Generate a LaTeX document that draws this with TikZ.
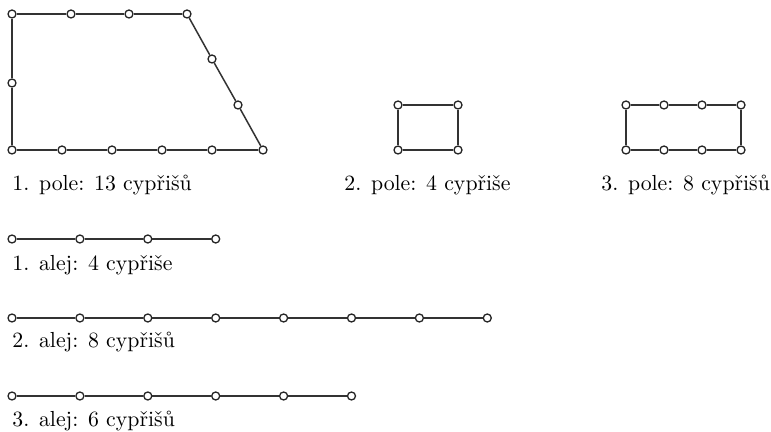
\documentclass[tikz,border=0pt]{standalone}
\usepackage{tikz}
\tikzset{
  cypress/.style={circle,draw=black!85,fill=white,line width=0.65pt,inner sep=0pt,minimum size=4pt},
  row/.style={draw=black!80,line width=0.75pt},
  caption/.style={anchor=base west,inner sep=0pt,font=\fontsize{10.9}{13}\selectfont}
}

\begin{document}
\begin{tikzpicture}[x=0.5pt,y=-0.5pt]
\useasboundingbox (0,0) rectangle (771,432);

% 1. pole
\foreach \x/\y [count=\i] in {12/150,62/150,112/150,162/150,212/150,263/150,238/105,212/59,187/14,129/14,71/14,12/14,12/83}
  \node[cypress] (a\i) at (\x,\y) {};
\foreach \i [remember=\i as \j (initially 13)] in {1,...,13}
  \draw[row] (a\j) -- (a\i);

% 2. pole
\foreach \x/\y [count=\i] in {398/150,458/150,458/105,398/105}
  \node[cypress] (b\i) at (\x,\y) {};
\foreach \i [remember=\i as \j (initially 4)] in {1,...,4}
  \draw[row] (b\j) -- (b\i);

% 3. pole
\foreach \x/\y [count=\i] in {626/150,664/150,702/150,741/150,741/105,702/105,664/105,626/105}
  \node[cypress] (c\i) at (\x,\y) {};
\foreach \i [remember=\i as \j (initially 8)] in {1,...,8}
  \draw[row] (c\j) -- (c\i);

% aleje
\foreach \n/\k/\y in {1/4/239,2/8/318,3/6/396} {
  \foreach \i in {1,...,\k}
    \node[cypress] (r\n-\i) at ({12+67.9*(\i-1)},\y) {};
  \foreach \i in {2,...,\k} {
    \pgfmathtruncatemacro\j{\i-1}
    \draw[row] (r\n-\j) -- (r\n-\i);
  }
}

\node[caption] (pole1) at (12,191) {1. pole: 13 cypřišů};
\node[caption] (pole2) at (344,191) {2. pole: 4 cypřiše};
\node[caption] (pole3) at (601,191) {3. pole: 8 cypřišů};
\node[caption] (alej1) at (12,271) {1. alej: 4 cypřiše};
\node[caption] (alej2) at (12,348) {2. alej: 8 cypřišů};
\node[caption] (alej3) at (12,427) {3. alej: 6 cypřišů};

\end{tikzpicture}
\end{document}
